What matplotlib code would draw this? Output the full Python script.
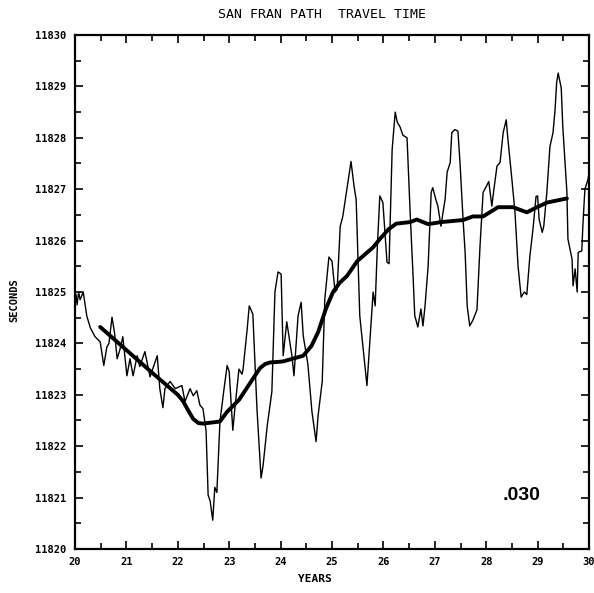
import matplotlib
matplotlib.use("Agg")
import matplotlib.pyplot as plt
from matplotlib.ticker import MultipleLocator

# Thin line: raw travel time (years, seconds)
raw_years = [20.00, 20.02, 20.04, 20.07, 20.10, 20.16, 20.23, 20.30, 20.39, 20.49, 20.56,
             20.62, 20.66, 20.72, 20.77, 20.82, 20.88, 20.93, 21.01, 21.07, 21.13,
             21.21, 21.26, 21.36, 21.46, 21.60, 21.65, 21.71, 21.75, 21.85, 21.95,
             22.08, 22.14, 22.24, 22.30, 22.37, 22.43, 22.49, 22.55, 22.59, 22.63,
             22.68, 22.72, 22.76, 22.82, 22.90, 22.96, 23.00, 23.07, 23.11, 23.19,
             23.25, 23.27, 23.35, 23.39, 23.46, 23.54, 23.62, 23.66, 23.74, 23.83,
             23.89, 23.95, 24.01, 24.05, 24.12, 24.22, 24.26, 24.34, 24.40, 24.44,
             24.53, 24.61, 24.69, 24.73, 24.81, 24.86, 24.94, 25.00, 25.06, 25.10,
             25.16, 25.21, 25.29, 25.37, 25.43, 25.47, 25.54, 25.64, 25.68, 25.74,
             25.80, 25.84, 25.88, 25.93, 25.99, 26.03, 26.07, 26.11, 26.17, 26.23,
             26.27, 26.32, 26.38, 26.46, 26.52, 26.58, 26.61, 26.67, 26.73, 26.77,
             26.81, 26.87, 26.93, 26.96, 27.02, 27.06, 27.12, 27.16, 27.20, 27.24,
             27.30, 27.33, 27.39, 27.45, 27.49, 27.55, 27.59, 27.63, 27.68, 27.74,
             27.82, 27.88, 27.94, 28.00, 28.05, 28.11, 28.15, 28.21, 28.27, 28.33,
             28.39, 28.42, 28.50, 28.56, 28.62, 28.68, 28.74, 28.79, 28.85, 28.91,
             28.97, 29.00, 29.03, 29.09, 29.12, 29.18, 29.24, 29.30, 29.34, 29.37,
             29.40, 29.46, 29.49, 29.57, 29.59, 29.67, 29.69, 29.73, 29.77, 29.79,
             29.86, 29.88, 29.92, 29.98, 30.00]
raw_seconds = [11824.8, 11824.95, 11824.75, 11825.0, 11824.85, 11825.0, 11824.53, 11824.3, 11824.13, 11824.03, 11823.57,
               11823.93, 11824.0, 11824.51, 11824.2, 11823.7, 11823.9, 11824.13, 11823.37, 11823.7, 11823.37,
               11823.76, 11823.55, 11823.84, 11823.35, 11823.76, 11823.12, 11822.75, 11823.12, 11823.26, 11823.12,
               11823.18, 11822.87, 11823.12, 11822.98, 11823.08, 11822.8, 11822.73, 11822.3, 11821.05, 11820.93,
               11820.56, 11821.2, 11821.1, 11822.48, 11823.12, 11823.57, 11823.45, 11822.31, 11822.73, 11823.5,
               11823.4, 11823.5, 11824.28, 11824.73, 11824.57, 11822.73, 11821.38, 11821.63, 11822.4, 11823.06,
               11825.0, 11825.39, 11825.35, 11823.76, 11824.42, 11823.76, 11823.37, 11824.54, 11824.8, 11824.15,
               11823.6, 11822.67, 11822.09, 11822.6, 11823.26, 11824.86, 11825.68, 11825.6, 11825.0, 11825.05,
               11826.28, 11826.47, 11827.0, 11827.54, 11827.05, 11826.8, 11824.54, 11823.57, 11823.18, 11824.09,
               11825.0, 11824.73, 11825.83, 11826.87, 11826.74, 11826.16, 11825.58, 11825.55, 11827.77, 11828.5,
               11828.3, 11828.22, 11828.05, 11828.0, 11826.55, 11825.25, 11824.54, 11824.32, 11824.67, 11824.34,
               11824.73, 11825.5, 11826.94, 11827.03, 11826.8, 11826.67, 11826.28, 11826.55, 11826.8, 11827.33,
               11827.52, 11828.1, 11828.16, 11828.13, 11827.52, 11826.41, 11825.77, 11824.73, 11824.34, 11824.45,
               11824.65, 11825.9, 11826.94, 11827.05, 11827.15, 11826.67, 11827.0, 11827.45, 11827.52, 11828.1,
               11828.35, 11828.0, 11827.19, 11826.55, 11825.5, 11824.9, 11825.0, 11824.95, 11825.7, 11826.22,
               11826.86, 11826.87, 11826.41, 11826.16, 11826.28, 11826.94, 11827.83, 11828.1, 11828.55, 11829.07,
               11829.26, 11828.97, 11828.22, 11826.94, 11826.03, 11825.64, 11825.12, 11825.45, 11825.0, 11825.77,
               11825.8, 11826.28, 11827.0, 11827.19, 11827.3]

# Thick line: smoothed curve
smooth_years = [20.49, 21.00, 21.50, 22.00, 22.10, 22.20, 22.30, 22.40, 22.49, 22.82, 22.96, 23.19,
                23.46, 23.60, 23.70, 23.80, 23.95, 24.05, 24.44, 24.60, 24.73, 24.88, 25.02, 25.15, 25.29,
                25.49, 25.80, 25.93, 26.10, 26.25, 26.52, 26.65, 26.87, 27.12, 27.55, 27.74,
                27.94, 28.23, 28.52, 28.79, 28.99, 29.18, 29.57]
smooth_seconds = [11824.32, 11823.87, 11823.43, 11823.0, 11822.88, 11822.7, 11822.53, 11822.45, 11822.44, 11822.48, 11822.67, 11822.9,
                  11823.31, 11823.52, 11823.6, 11823.63, 11823.64, 11823.65, 11823.76, 11823.95, 11824.22, 11824.67, 11825.0, 11825.18, 11825.31,
                  11825.6, 11825.87, 11826.03, 11826.22, 11826.33, 11826.36, 11826.41, 11826.32, 11826.36, 11826.4, 11826.47,
                  11826.47, 11826.65, 11826.65, 11826.55, 11826.65, 11826.74, 11826.82]

x_ticks = [20, 21, 22, 23, 24, 25, 26, 27, 28, 29, 30]
y_ticks = [11820, 11821, 11822, 11823, 11824, 11825, 11826, 11827, 11828, 11829, 11830]

fig = plt.figure(figsize=(5.94, 5.93), dpi=100)
ax = fig.add_axes([75/594, 1 - 549/593, 514/594, 514/593])

ax.plot(raw_years, raw_seconds, color="black", lw=1.0, solid_joinstyle="round")
ax.plot(smooth_years, smooth_seconds, color="black", lw=2.8, solid_capstyle="round",
        solid_joinstyle="round")

ax.set_xlim(20, 30)
ax.set_ylim(11820, 11830)
ax.set_xticks(x_ticks)
ax.set_yticks(y_ticks)
ax.xaxis.set_minor_locator(MultipleLocator(0.5))
ax.yaxis.set_minor_locator(MultipleLocator(0.5))
tick_font = dict(family="DejaVu Sans Mono", size=7.5, weight="bold")
ax.set_xticklabels([str(t) for t in x_ticks], **tick_font)
ax.set_yticklabels([str(t) for t in y_ticks], **tick_font)
ax.tick_params(which="both", direction="in", top=True, right=True, width=1.2)
ax.tick_params(which="major", length=6, pad=6)
ax.tick_params(which="minor", length=4)
for s in ax.spines.values():
    s.set_linewidth(1.6)

fig.text(322/594, 1 - 15/593, "SAN FRAN PATH  TRAVEL TIME", ha="center", va="center",
         family="DejaVu Sans Mono", size=9.5)
fig.text(315/594, 1 - 579/593, "YEARS", ha="center", va="center",
         family="DejaVu Sans Mono", size=8, weight="bold")
fig.text(14/594, 1 - 300/593, "SECONDS", ha="center", va="center", rotation=90,
         family="DejaVu Sans Mono", size=7.5, weight="bold")
ax.text(28.68, 11821.05, ".030", ha="center", va="center",
        family=["Liberation Sans", "DejaVu Sans"], size=14, weight="bold")

fig.savefig("out.png", dpi=100)
